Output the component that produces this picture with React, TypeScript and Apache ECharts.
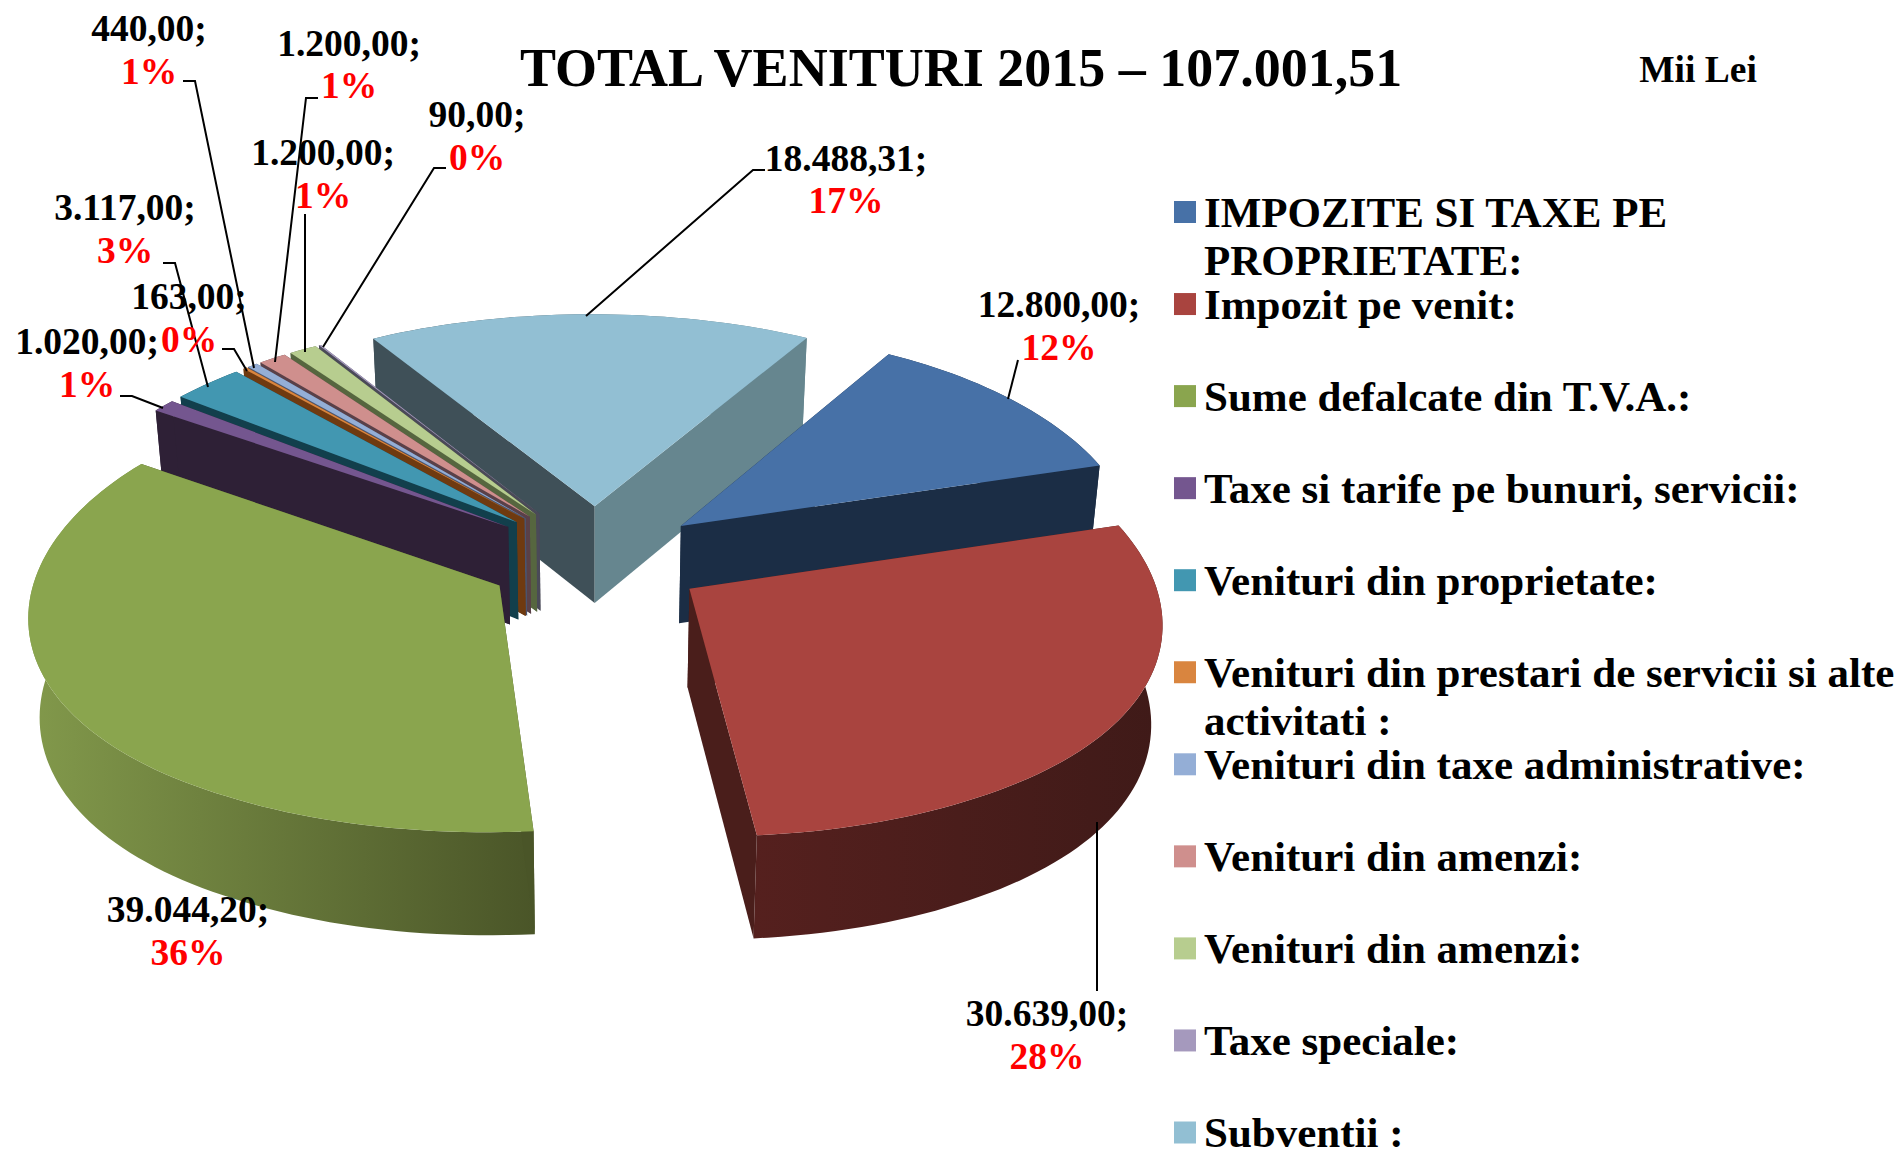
import React, { useEffect, useRef } from "react";
import * as echarts from "echarts";

const titleText = "TOTAL VENITURI 2015 – 107.001,51";
const unitText = "Mii Lei";
const categories = [
  "IMPOZITE SI TAXE PE\nPROPRIETATE:",
  "Impozit pe venit:",
  "Sume defalcate din T.V.A.:",
  "Taxe si tarife pe bunuri, servicii:",
  "Venituri din proprietate:",
  "Venituri din prestari de servicii si alte\nactivitati :",
  "Venituri din taxe administrative:",
  "Venituri din amenzi:",
  "Venituri din amenzi:",
  "Taxe speciale:",
  "Subventii :",
];
const values = [12800, 30639, 39044.2, 1020, 3117, 163, 440, 1200, 1200, 90, 18488.31];
const valueLabels = ["12.800,00;", "30.639,00;", "39.044,20;", "1.020,00;", "3.117,00;", "163,00;", "440,00;", "1.200,00;", "1.200,00;", "90,00;", "18.488,31;"];
const percentLabels = ["12%", "28%", "36%", "1%", "3%", "0%", "1%", "1%", "1%", "0%", "17%"];

const topColors = ["#4771a7", "#a9443f", "#8aa54e", "#74568f", "#4297b1", "#d9853f", "#94aed6", "#cf8f8d", "#b7cd8f", "#a599bd", "#92bfd3"];
const wallColors = ["#1b2d45", "#4a1e1b", "#4a5528", "#2e2036", "#123f4c", "#6f3a10", "#4a5570", "#5a4048", "#56663f", "#4a4a58", "#3f5058"];
const endWallColors = ["#1b2d45", "#4a1e1b", "#4a5528", "#2e2036", "#123f4c", "#6f3a10", "#4a5570", "#5a4048", "#56663f", "#4a4a58", "#66868f"];
const rimColors = [
  ["#1b2d45", "#1b2d45"],
  ["#55201e", "#3f1a18"],
  ["#82994b", "#4a5528"],
  ["#2e2036", "#2e2036"],
  ["#123f4c", "#123f4c"],
  ["#6f3a10", "#6f3a10"],
  ["#4a5570", "#4a5570"],
  ["#5a4048", "#5a4048"],
  ["#56663f", "#56663f"],
  ["#4a4a58", "#4a4a58"],
  ["#3f5058", "#66868f"],
];
// back to front
const paintOrder = [10, 9, 8, 7, 6, 5, 4, 3, 0, 2, 1];

// perspective model of the tilted pie
const CX = 596, CY = 553, RX = 460, RY = 218, PERSP_Y = 0.11, EXPLODE_X = 0.24, EXPLODE_Y = 0.245, START_DEG = 30.5;
const SHEAR = 3.5, BULGE = 5.5, DEPTH = 98, BOTTOM_SCALE = 0.98;

const FONT = '"Liberation Serif"';
const total = values.reduce((a, b) => a + b, 0);
const rad = (d: number) => (d * Math.PI) / 180;

const spans = (() => {
  let a = START_DEG;
  return values.map((v) => {
    const s = a;
    a += (v / total) * 360;
    return [s, a];
  });
})();

function project(U: number, V: number, bottom: boolean): number[] {
  const wx = 1 + 0.11 * V - 0.0296 * V * V;
  let x = CX + (RX * U) / wx - SHEAR * V;
  let y = CY - (RY * V) / (1 + PERSP_Y * V) + BULGE * Math.max(0, 1 - V * V);
  if (bottom) {
    x = CX + (x - CX) * BOTTOM_SCALE;
    y += DEPTH / (1 + 0.4 * PERSP_Y * V);
  }
  return [x, y];
}

function slicePoint(i: number, deg: number, r: number, bottom: boolean) {
  const mid = rad((spans[i][0] + spans[i][1]) / 2);
  const t = rad(deg);
  return project(EXPLODE_X * Math.sin(mid) + r * Math.sin(t), EXPLODE_Y * Math.cos(mid) + r * Math.cos(t), bottom);
}

function arc(i: number, bottom: boolean) {
  const [s, e] = spans[i];
  const n = Math.max(2, Math.ceil((e - s) / 1.5));
  const pts: number[][] = [];
  for (let k = 0; k <= n; k++) pts.push(slicePoint(i, s + ((e - s) * k) / n, 1, bottom));
  return pts;
}

// label layout: line centres and leader polyline (pixels on the page)
const labelPos = [
  { x: 1059, y1: 304, y2: 347, leader: [[1018, 360], [1008, 399]] },
  { x: 1047, y1: 1013, y2: 1056, leader: [[1097, 991], [1097, 822]] },
  { x: 188, y1: 909, y2: 952, leader: [] },
  { x: 87, y1: 341, y2: 384, leader: [[120, 396], [132, 396], [163, 408]] },
  { x: 125, y1: 207, y2: 250, leader: [[163, 263], [175, 263], [208, 387]] },
  { x: 189, y1: 296, y2: 339, leader: [[222, 349], [234, 349], [247, 371]] },
  { x: 149, y1: 28, y2: 71, leader: [[183, 81], [195, 81], [254, 368]] },
  { x: 349, y1: 43, y2: 85, leader: [[318, 98], [306, 98], [275, 362]] },
  { x: 323, y1: 152, y2: 195, leader: [[305, 214], [305, 352]] },
  { x: 477, y1: 114, y2: 157, leader: [[446, 168], [434, 168], [323, 347]] },
  { x: 846, y1: 158, y2: 200, leader: [[765, 170], [753, 170], [586, 316]] },
];

const LEGEND_X = 1174, LEGEND_TEXT_X = 1204, LEGEND_Y0 = 212, LEGEND_STEP = 92.05;

function renderItem(params: any) {
  const i = params.dataIndex;
  const base = paintOrder.indexOf(i) * 10 + 10;
  const [s] = spans[i];
  const apexT = slicePoint(i, s, 0, false);
  const apexB = slicePoint(i, s, 0, true);
  const topArc = arc(i, false);
  const botArc = arc(i, true);
  const children: any[] = [];
  children.push({
    type: "polygon", z2: base,
    shape: { points: [...topArc, ...botArc.slice().reverse()] },
    style: { fill: new echarts.graphic.LinearGradient(0, 0, 1, 0, [
      { offset: 0, color: rimColors[i][0] }, { offset: 1, color: rimColors[i][1] },
    ]) },
  });
  children.push({
    type: "polygon", z2: base + 1,
    shape: { points: [apexT, topArc[0], botArc[0], apexB] },
    style: { fill: wallColors[i] },
  });
  children.push({
    type: "polygon", z2: base + 2,
    shape: { points: [apexT, topArc[topArc.length - 1], botArc[botArc.length - 1], apexB] },
    style: { fill: endWallColors[i] },
  });
  children.push({
    type: "polygon", z2: base + 3,
    shape: { points: [apexT, ...topArc] },
    style: { fill: topColors[i] },
  });
  const leader = labelPos[i].leader;
  if (leader.length) {
    children.push({
      type: "polyline", z2: 300,
      shape: { points: leader },
      style: { stroke: "#000", lineWidth: 2, fill: "none" },
    });
  }
  return { type: "group", children };
}

function textEl(text: string, x: number, y: number, size: number, fill: string, align = "center", lineHeight?: number) {
  return {
    type: "text", x, y, z: 10,
    style: {
      text, fill, font: `bold ${size}px ${FONT}`,
      align, verticalAlign: "middle",
      textAlign: align, textVerticalAlign: "middle",
      ...(lineHeight ? { lineHeight } : {}),
    },
  };
}

export default function App() {
  const ref = useRef<HTMLDivElement>(null);
  useEffect(() => {
    if (!ref.current) return;
    const chart = echarts.init(ref.current, undefined, { renderer: "svg" });
    const elements: any[] = [];
    values.forEach((_, i) => {
      const p = labelPos[i];
      elements.push(textEl(valueLabels[i], p.x, p.y1, 37.5, "#000"));
      elements.push(textEl(percentLabels[i], p.x, p.y2, 37.5, "#ff0000"));
    });
    categories.forEach((c, i) => {
      const y = LEGEND_Y0 + LEGEND_STEP * i;
      elements.push({
        type: "rect", z: 10,
        shape: { x: LEGEND_X, y: y - 11, width: 22, height: 22 },
        style: { fill: topColors[i] },
      });
      const lines = c.split("\n");
      lines.forEach((l, k) => {
        elements.push(textEl(l, LEGEND_TEXT_X, y + k * 48, 43, "#000", "left", 36));
      });
    });
    chart.setOption({
      animation: false,
      backgroundColor: "#ffffff",
      title: {
        text: titleText, left: 515, top: 36,
        textStyle: { fontFamily: FONT, fontWeight: "bold", fontSize: 54, color: "#000" },
      },
      graphic: {
        elements: [textEl(unitText, 1698, 69, 37.5, "#000"), ...elements],
      },
      series: [{
        type: "custom",
        coordinateSystem: "none",
        silent: true,
        clip: false,
        data: values,
        renderItem,
      }],
    });
    return () => chart.dispose();
  }, []);
  return <div ref={ref} style={{ position: "absolute", left: 0, top: 0, width: 1899, height: 1151 }} />;
}
